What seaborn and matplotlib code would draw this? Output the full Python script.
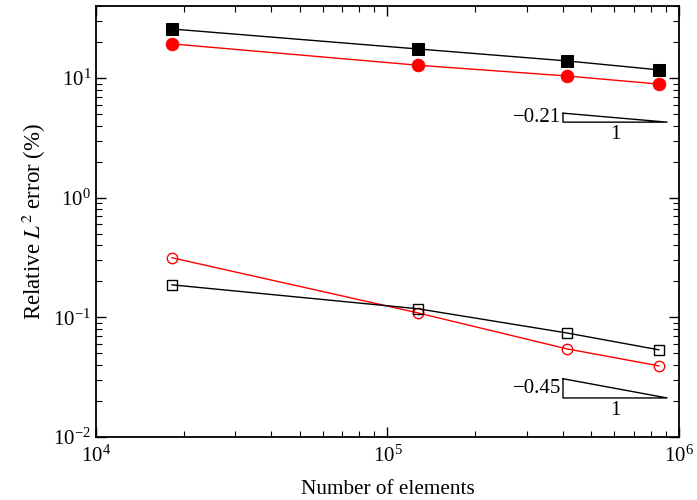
import numpy as np
import pandas as pd
import seaborn as sns
import matplotlib.pyplot as plt

# number of elements for each mesh
n_elements = [1.82e4, 1.27e5, 4.13e5, 8.54e5]

# relative L2 error (%) for each series
err_black_filled = [25.7, 17.5, 13.9, 11.7]
err_red_filled = [19.3, 12.8, 10.4, 8.9]
err_red_open = [0.315, 0.109, 0.0545, 0.0393]
err_black_open = [0.187, 0.118, 0.074, 0.0535]

# slope triangles: (slope, x start, x end, y at base)
slope_labels = ["\u22120.21", "\u22120.45"]
slopes = [-0.21, -0.45]
tri_x0 = [4.0e5, 4.0e5]
tri_x1 = [9.1e5, 9.1e5]
tri_ybase = [4.28, 0.0212]

sns.set_style("ticks")
plt.rcParams["font.family"] = ["Liberation Serif", "DejaVu Serif"]
plt.rcParams["mathtext.fontset"] = "stix"
for key in ["text.color", "axes.labelcolor", "xtick.color", "ytick.color",
            "axes.edgecolor"]:
    plt.rcParams[key] = "black"

fig = plt.figure(figsize=(6.97, 5), dpi=100)
ax = fig.add_axes([0.1377, 0.126, 0.8365, 0.862])

# filled markers
sns.lineplot(x=n_elements, y=err_black_filled, ax=ax, color="black", lw=1,
             marker="s", markersize=9, markerfacecolor="black",
             markeredgecolor="black")
sns.lineplot(x=n_elements, y=err_red_filled, ax=ax, color="red", lw=1,
             marker="o", markersize=9, markerfacecolor="red",
             markeredgecolor="red")
# open markers
sns.lineplot(x=n_elements, y=err_red_open, ax=ax, color="red", lw=1,
             marker="o", markersize=7.5, markerfacecolor="none",
             markeredgecolor="red", markeredgewidth=1)
sns.lineplot(x=n_elements, y=err_black_open, ax=ax, color="black", lw=1,
             marker="s", markersize=7.8, markerfacecolor="none",
             markeredgecolor="black", markeredgewidth=1)

ax.set_xscale("log")
ax.set_yscale("log")
ax.set_xlim(1e4, 1e6)
ax.set_ylim(1e-2, 40)

# slope triangles
for lab, s, x0, x1, yb in zip(slope_labels, slopes, tri_x0, tri_x1, tri_ybase):
    ytop = yb * (x1 / x0) ** (-s)
    ax.plot([x0, x0, x1, x0], [ytop, yb, yb, ytop], color="black", lw=1)
    ax.text(x0 * 0.985, np.sqrt(yb * ytop), lab, ha="right", va="center",
            fontsize=15)
    ax.text(np.sqrt(x0 * x1), yb * 0.95, "1", ha="center", va="top",
            fontsize=15)

ax.tick_params(which="both", direction="in", top=True, right=True,
               labelsize=15)
ax.tick_params(which="major", length=7, width=1)
ax.tick_params(which="minor", length=4, width=0.8)
ax.tick_params(axis="x", pad=6)
for sp in ax.spines.values():
    sp.set_linewidth(1.3)

ax.set_xlabel("Number of elements", fontsize=15.3, labelpad=10)
ax.set_ylabel("Relative $L^2$ error (%)", fontsize=16.5, labelpad=4)

fig.savefig("out.png", dpi=100)
